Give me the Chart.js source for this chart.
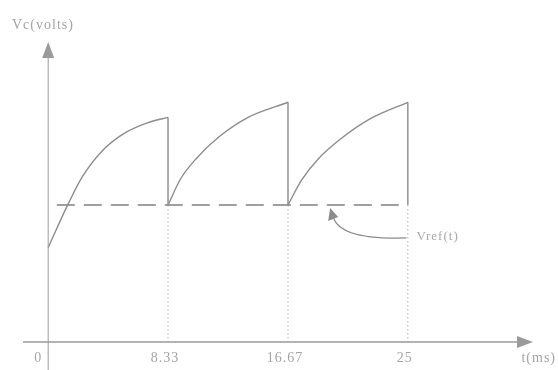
<!DOCTYPE html>
<html lang="en">
<head>
  <meta charset="UTF-8">
  <title>Capacitor voltage</title>
  <script src="https://cdn.jsdelivr.net/npm/chart.js"></script>
  <style>
    body { margin:0; background:#fff; }
    .wrap { width:558px; height:370px; }
  </style>
</head>
<body>
  <div class="wrap"><canvas id="chart" width="558" height="370"></canvas></div>
  <script>
    // charging arcs (t in ms, V in arbitrary volts)
    const arc1T = [0, 1.4, 2.4, 3.9, 5.4, 6.9, 8.33];
    const arc1V = [0.69, 1.01, 1.21, 1.41, 1.53, 1.60, 1.64];
    const arc2T = [8.33, 9.2, 10.3, 11.9, 13.9, 16.67];
    const arc2V = [1.0, 1.19, 1.34, 1.50, 1.64, 1.75];
    const arc3T = [16.67, 17.6, 18.8, 20.3, 22.4, 25];
    const arc3V = [1.0, 1.18, 1.34, 1.48, 1.63, 1.75];

    const refLevel = 1.0;
    const refStart = 0.6, refEnd = 25;
    const tickValues = [0, 8.33, 16.67, 25];
    const tickLabels = ['0', '8.33', '16.67', '25'];
    const yTitle = 'Vc(volts)';
    const xTitle = 't(ms)';
    const noteText = 'Vref(t)';

    const gray = '#8c8c8c';
    const pts = (ts, vs) => ts.map((t, i) => ({x: t, y: vs[i]}));

    const arcStyle = { borderColor: gray, borderWidth: 1.4, pointRadius: 0, cubicInterpolationMode: 'monotone', fill: false };

    // vertical drops at the end of each arc
    const drops = [
      {x: 8.33, y: arc1V[arc1V.length - 1]}, {x: 8.33, y: refLevel}, {x: null, y: null},
      {x: 16.67, y: arc2V[arc2V.length - 1]}, {x: 16.67, y: refLevel}, {x: null, y: null},
      {x: 25, y: arc3V[arc3V.length - 1]}, {x: 25, y: refLevel}
    ];
    const dotted = [];
    tickValues.slice(1).forEach((t, i) => {
      if (i) dotted.push({x: null, y: null});
      dotted.push({x: t, y: refLevel}, {x: t, y: 0});
    });

    const axesPlugin = {
      id: 'axesPlugin',
      afterDatasetsDraw(chart) {
        const ctx = chart.ctx, xs = chart.scales.x, ys = chart.scales.y;
        const a = chart.chartArea;
        const x0 = xs.getPixelForValue(0), y0 = ys.getPixelForValue(0);
        ctx.save();
        ctx.strokeStyle = '#9a9a9a'; ctx.fillStyle = '#9a9a9a'; ctx.lineWidth = 1.5;
        // x axis with arrow
        ctx.beginPath(); ctx.moveTo(a.left, y0); ctx.lineTo(a.right - 12, y0); ctx.stroke();
        ctx.beginPath(); ctx.moveTo(a.right, y0); ctx.lineTo(a.right - 16, y0 - 6); ctx.lineTo(a.right - 16, y0 + 6); ctx.closePath(); ctx.fill();
        // y axis with arrow
        ctx.lineWidth = 1;
        ctx.beginPath(); ctx.moveTo(x0, 370); ctx.lineTo(x0, a.top + 12); ctx.stroke();
        ctx.beginPath(); ctx.moveTo(x0, a.top); ctx.lineTo(x0 - 6, a.top + 16); ctx.lineTo(x0 + 6, a.top + 16); ctx.closePath(); ctx.fill();

        // labels
        ctx.fillStyle = '#a4a4a4';
        ctx.font = '14px "Liberation Serif", serif';
        ctx.letterSpacing = '1px';
        ctx.textBaseline = 'middle';
        tickValues.forEach((t, i) => {
          const px = xs.getPixelForValue(t);
          if (t === 0) { ctx.textAlign = 'right'; ctx.fillText(tickLabels[i], px - 6, y0 + 16); }
          else { ctx.textAlign = 'center'; ctx.fillText(tickLabels[i], px - 3, y0 + 16); }
        });
        ctx.textAlign = 'right';
        ctx.fillText(xTitle, 556, y0 + 16);
        ctx.textAlign = 'left';
        ctx.fillText(yTitle, 12, 25);

        // annotation arrow pointing at the reference line
        const tipX = xs.getPixelForValue(19.6), tipY = ys.getPixelForValue(refLevel) + 3;
        const tailX = xs.getPixelForValue(24.9), tailY = ys.getPixelForValue(0.76);
        ctx.strokeStyle = '#8c8c8c'; ctx.fillStyle = '#8c8c8c'; ctx.lineWidth = 1.3;
        ctx.beginPath(); ctx.moveTo(tailX, tailY);
        ctx.quadraticCurveTo(tipX + 8, tailY + 2, tipX + 3, tipY + 8); ctx.stroke();
        ctx.beginPath(); ctx.moveTo(tipX, tipY); ctx.lineTo(tipX - 2, tipY + 13); ctx.lineTo(tipX + 8, tipY + 9); ctx.closePath(); ctx.fill();
        ctx.fillStyle = '#a8a8a8';
        ctx.font = '13px "Liberation Serif", serif';
        ctx.fillText(noteText, tailX + 10, tailY - 1);
        ctx.restore();
      }
    };

    new Chart(document.getElementById('chart'), {
      type: 'line',
      data: {
        datasets: [
          { data: pts(arc1T, arc1V), ...arcStyle },
          { data: pts(arc2T, arc2V), ...arcStyle },
          { data: pts(arc3T, arc3V), ...arcStyle },
          { data: drops, borderColor: gray, borderWidth: 1.4, pointRadius: 0, tension: 0, spanGaps: false },
          { data: [{x: refStart, y: refLevel}, {x: refEnd, y: refLevel}], borderColor: '#808080', borderWidth: 1.4, borderDash: [18, 9], pointRadius: 0 },
          { data: dotted, borderColor: '#b4b4b4', borderWidth: 1, borderDash: [1.5, 2.5], pointRadius: 0, spanGaps: false }
        ]
      },
      options: {
        responsive: false,
        animation: false,
        layout: { padding: { left: 23, right: 25, top: 42, bottom: 28 } },
        plugins: { legend: { display: false }, tooltip: { enabled: false } },
        scales: {
          x: { type: 'linear', min: -1.75, max: 33.7, display: false },
          y: { type: 'linear', min: 0, max: 2.19, display: false }
        }
      },
      plugins: [axesPlugin]
    });
  </script>
</body>
</html>
